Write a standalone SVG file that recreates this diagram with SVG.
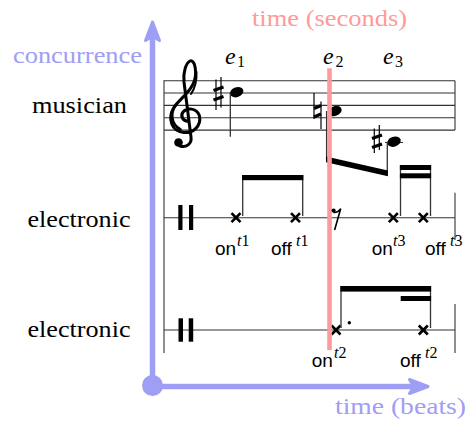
<svg xmlns="http://www.w3.org/2000/svg" width="470" height="422" viewBox="0 0 470 422">
<style>
.lbl{font-family:"Liberation Serif","DejaVu Serif",serif;font-size:24px;fill:#000}
.pink{fill:#ff9a9a}
.blue{fill:#9e9ef5}
.it{font-family:"Liberation Serif",serif;font-style:italic;font-size:24px}
.sub{font-family:"Liberation Serif",serif;font-size:16px}
.sans{font-family:"Liberation Sans",sans-serif;font-size:19px}
.sup{font-family:"Liberation Serif",serif;font-size:16px}
.staff{stroke:#333;stroke-width:1.1;fill:none}
.stem{stroke:#333;stroke-width:1.3;fill:none}
.beam{fill:#000}
.xh{stroke:#000;stroke-width:2.6;stroke-linecap:butt}
.acc{stroke:#000;stroke-width:1.2}
.accb{stroke:#000;stroke-width:3}
</style>

<!-- axes -->
<g id="axes" fill="none" stroke="#9e9ef5" stroke-width="5.5" stroke-linecap="round" stroke-linejoin="round">
<line x1="152.5" y1="385.5" x2="152.5" y2="28"/>
<path d="M152.5,22 L145.5,40.5 Q152.5,35 159.5,40.5 Z" fill="#9e9ef5" stroke-width="3"/>
<line x1="152.5" y1="386.5" x2="422" y2="386.5"/>
<path d="M428,386.5 L409.5,379.5 Q415,386.5 409.5,393.5 Z" fill="#9e9ef5" stroke-width="3"/>
<circle cx="152.5" cy="385.5" r="10.5" fill="#9e9ef5" stroke="none"/>
</g>

<g id="axis-labels">
<text class="lbl pink" style="font-family:'Liberation Serif',serif" x="252" y="26" textLength="155" lengthAdjust="spacingAndGlyphs">time (seconds)</text>
<text class="lbl blue" style="font-family:'Liberation Serif',serif" x="13" y="63" textLength="129" lengthAdjust="spacingAndGlyphs">concurrence</text>
<text class="lbl blue" style="font-family:'Liberation Serif',serif" x="335" y="414" textLength="131" lengthAdjust="spacingAndGlyphs">time (beats)</text>
</g>

<g id="row-labels">
<text class="lbl" style="font-family:'Liberation Serif',serif" x="32" y="113" textLength="95" lengthAdjust="spacingAndGlyphs">musician</text>
<text class="lbl" style="font-family:'Liberation Serif',serif" x="27.5" y="226.5" textLength="103" lengthAdjust="spacingAndGlyphs">electronic</text>
<text class="lbl" style="font-family:'Liberation Serif',serif" x="27.5" y="336.5" textLength="103" lengthAdjust="spacingAndGlyphs">electronic</text>
</g>

<g id="event-labels">
<text class="it" x="225" y="64">e</text><text class="sub" x="237" y="67">1</text>
<text class="it" x="323" y="64">e</text><text class="sub" x="335.5" y="67">2</text>
<text class="it" x="383" y="64">e</text><text class="sub" x="395" y="67">3</text>
</g>

<!-- staves -->
<g id="staves" class="staff">
<line x1="164" y1="80.7" x2="455" y2="80.7"/>
<line x1="164" y1="93.05" x2="455" y2="93.05"/>
<line x1="164" y1="105.4" x2="455" y2="105.4"/>
<line x1="164" y1="117.75" x2="455" y2="117.75"/>
<line x1="164" y1="130.1" x2="455" y2="130.1"/>
<line x1="455" y1="80.7" x2="455" y2="130.1"/>
<line x1="164" y1="80.2" x2="164" y2="353"/>
<line x1="164" y1="217.7" x2="455" y2="217.7"/>
<line x1="455" y1="192.7" x2="455" y2="240"/>
<line x1="164" y1="330" x2="455" y2="330"/>
<line x1="455" y1="304" x2="455" y2="353"/>
</g>

<!-- clefs -->
<g id="treble-clef">
<path d="M189,121 C183,122 180,116 183,112 C187,107 197,108 199.5,116 C201.5,126 193,133.5 184,132.5 C171.5,131.5 167.5,119 173.5,108 C179,99 194.5,90 195.5,75 C196,65 193,59.5 190,61 C186,63 183,72 184,82 L191,137 C192,144 186,148 180,146" fill="none" stroke="#000" stroke-width="3" stroke-linecap="round"/>
<path d="M180.5,129.5 C170.5,124 170,112 176.5,104.5" fill="none" stroke="#000" stroke-width="2.6" stroke-linecap="round"/>
<path d="M191,94 C195,88 197,82 196.5,72" fill="none" stroke="#000" stroke-width="2" stroke-linecap="round"/>
<circle cx="178.5" cy="142.5" r="4.3" fill="#000"/>
</g>
<g id="perc-clef-1" fill="#000">
<rect x="178.3" y="205" width="4.2" height="25"/>
<rect x="189" y="205" width="4.2" height="25"/>
</g>
<g id="perc-clef-2" fill="#000">
<rect x="178.5" y="318.3" width="4.5" height="23.4"/>
<rect x="188.7" y="318.3" width="4.5" height="23.4"/>
</g>

<!-- musician notes -->
<g id="e1-note">
<line class="acc" x1="216" y1="79.5" x2="216" y2="110"/>
<line class="acc" x1="221" y1="77" x2="221" y2="107.5"/>
<line class="accb" x1="213.5" y1="90.5" x2="223.5" y2="87"/>
<line class="accb" x1="213.5" y1="100" x2="223.5" y2="96.5"/>
<ellipse cx="236.7" cy="92.2" rx="6.9" ry="4.9" transform="rotate(-20 236.7 92.2)" fill="#000"/>
<line class="stem" x1="230.3" y1="93" x2="230.3" y2="136.7"/>
</g>
<g id="e2-note">
<line class="acc" x1="314" y1="93" x2="314" y2="119"/>
<line class="acc" x1="321" y1="101.5" x2="321" y2="129"/>
<line class="accb" x1="314" y1="108.5" x2="321" y2="105.5"/>
<line class="accb" x1="314" y1="117" x2="321" y2="114"/>
<ellipse cx="335" cy="111" rx="6.9" ry="4.9" transform="rotate(-20 335 111)" fill="#000"/>
<line class="stem" x1="326.6" y1="111" x2="326.6" y2="160"/>
</g>
<g id="e3-note">
<line class="staff" x1="385" y1="142.45" x2="403" y2="142.45"/>
<line class="acc" x1="374.3" y1="128.5" x2="374.3" y2="153"/>
<line class="acc" x1="379.3" y1="125" x2="379.3" y2="150"/>
<line class="accb" x1="372" y1="138.5" x2="382" y2="135"/>
<line class="accb" x1="372" y1="147.5" x2="382" y2="144"/>
<ellipse cx="394" cy="141.7" rx="6.9" ry="4.9" transform="rotate(-20 394 141.7)" fill="#000"/>
<line class="stem" x1="387.3" y1="142" x2="387.3" y2="175.5"/>
</g>
<g id="e2-e3-beam">
<polygon class="beam" points="326,156.5 387.9,170.5 387.9,176.3 326,162.3"/>
</g>

<!-- electronic 1 notes -->
<g id="t1-notes">
<g class="xh">
<line x1="231.5" y1="213.2" x2="240.5" y2="222.2"/><line x1="231.5" y1="222.2" x2="240.5" y2="213.2"/>
<line x1="291" y1="213.2" x2="300" y2="222.2"/><line x1="291" y1="222.2" x2="300" y2="213.2"/>
</g>
<line class="stem" x1="242.7" y1="175" x2="242.7" y2="216"/>
<line class="stem" x1="302.7" y1="175" x2="302.7" y2="216"/>
<rect class="beam" x="242.1" y="175" width="61.2" height="5.2"/>
</g>
<g id="t3-notes">
<g class="xh">
<line x1="388.8" y1="213.2" x2="397.8" y2="222.2"/><line x1="388.8" y1="222.2" x2="397.8" y2="213.2"/>
<line x1="418.8" y1="213.2" x2="427.8" y2="222.2"/><line x1="418.8" y1="222.2" x2="427.8" y2="213.2"/>
</g>
<line class="stem" x1="400.5" y1="165" x2="400.5" y2="216"/>
<line class="stem" x1="430.5" y1="165" x2="430.5" y2="216"/>
<rect class="beam" x="399.9" y="165" width="31.2" height="5"/>
<rect class="beam" x="399.9" y="173.3" width="31.2" height="5"/>
</g>

<!-- electronic 2 notes -->
<g id="t2-notes">
<g class="xh">
<line x1="331.5" y1="325.5" x2="340.5" y2="334.5"/><line x1="331.5" y1="334.5" x2="340.5" y2="325.5"/>
<line x1="418.8" y1="325.5" x2="427.8" y2="334.5"/><line x1="418.8" y1="334.5" x2="427.8" y2="325.5"/>
</g>
<circle cx="349.3" cy="322.7" r="1.7" fill="#000"/>
<line class="stem" x1="341" y1="286" x2="341" y2="328"/>
<line class="stem" x1="430.5" y1="286" x2="430.5" y2="328"/>
<rect class="beam" x="340.4" y="286" width="90.7" height="5.6"/>
<rect class="beam" x="400.7" y="296" width="30.4" height="5"/>
</g>

<!-- time (seconds) marker -->
<g id="seconds-line">
<line x1="329.5" y1="68.3" x2="329.5" y2="350" stroke="#ff9a9a" stroke-width="4.6"/>
</g>

<g id="rest">
<circle cx="333.6" cy="210.6" r="2.1" fill="#000"/>
<path d="M333.6,212.4 Q337.2,213.2 340.6,209 L334.6,230" fill="none" stroke="#000" stroke-width="1.6" stroke-linejoin="round"/>
</g>

<!-- on/off labels -->
<g id="on-t1"><text class="sans" x="215" y="255">on</text><text class="sup" x="237" y="246"><tspan font-style="italic">t</tspan>1</text></g>
<g id="off-t1"><text class="sans" x="271" y="255">off</text><text class="sup" x="296" y="246"><tspan font-style="italic">t</tspan>1</text></g>
<g id="on-t3"><text class="sans" x="371.7" y="255">on</text><text class="sup" x="393" y="246"><tspan font-style="italic">t</tspan>3</text></g>
<g id="off-t3"><text class="sans" x="425" y="255">off</text><text class="sup" x="450" y="246"><tspan font-style="italic">t</tspan>3</text></g>
<g id="on-t2"><text class="sans" x="311.7" y="366.7">on</text><text class="sup" x="334" y="357.5"><tspan font-style="italic">t</tspan>2</text></g>
<g id="off-t2"><text class="sans" x="400" y="366.7">off</text><text class="sup" x="425" y="357.5"><tspan font-style="italic">t</tspan>2</text></g>
</svg>
